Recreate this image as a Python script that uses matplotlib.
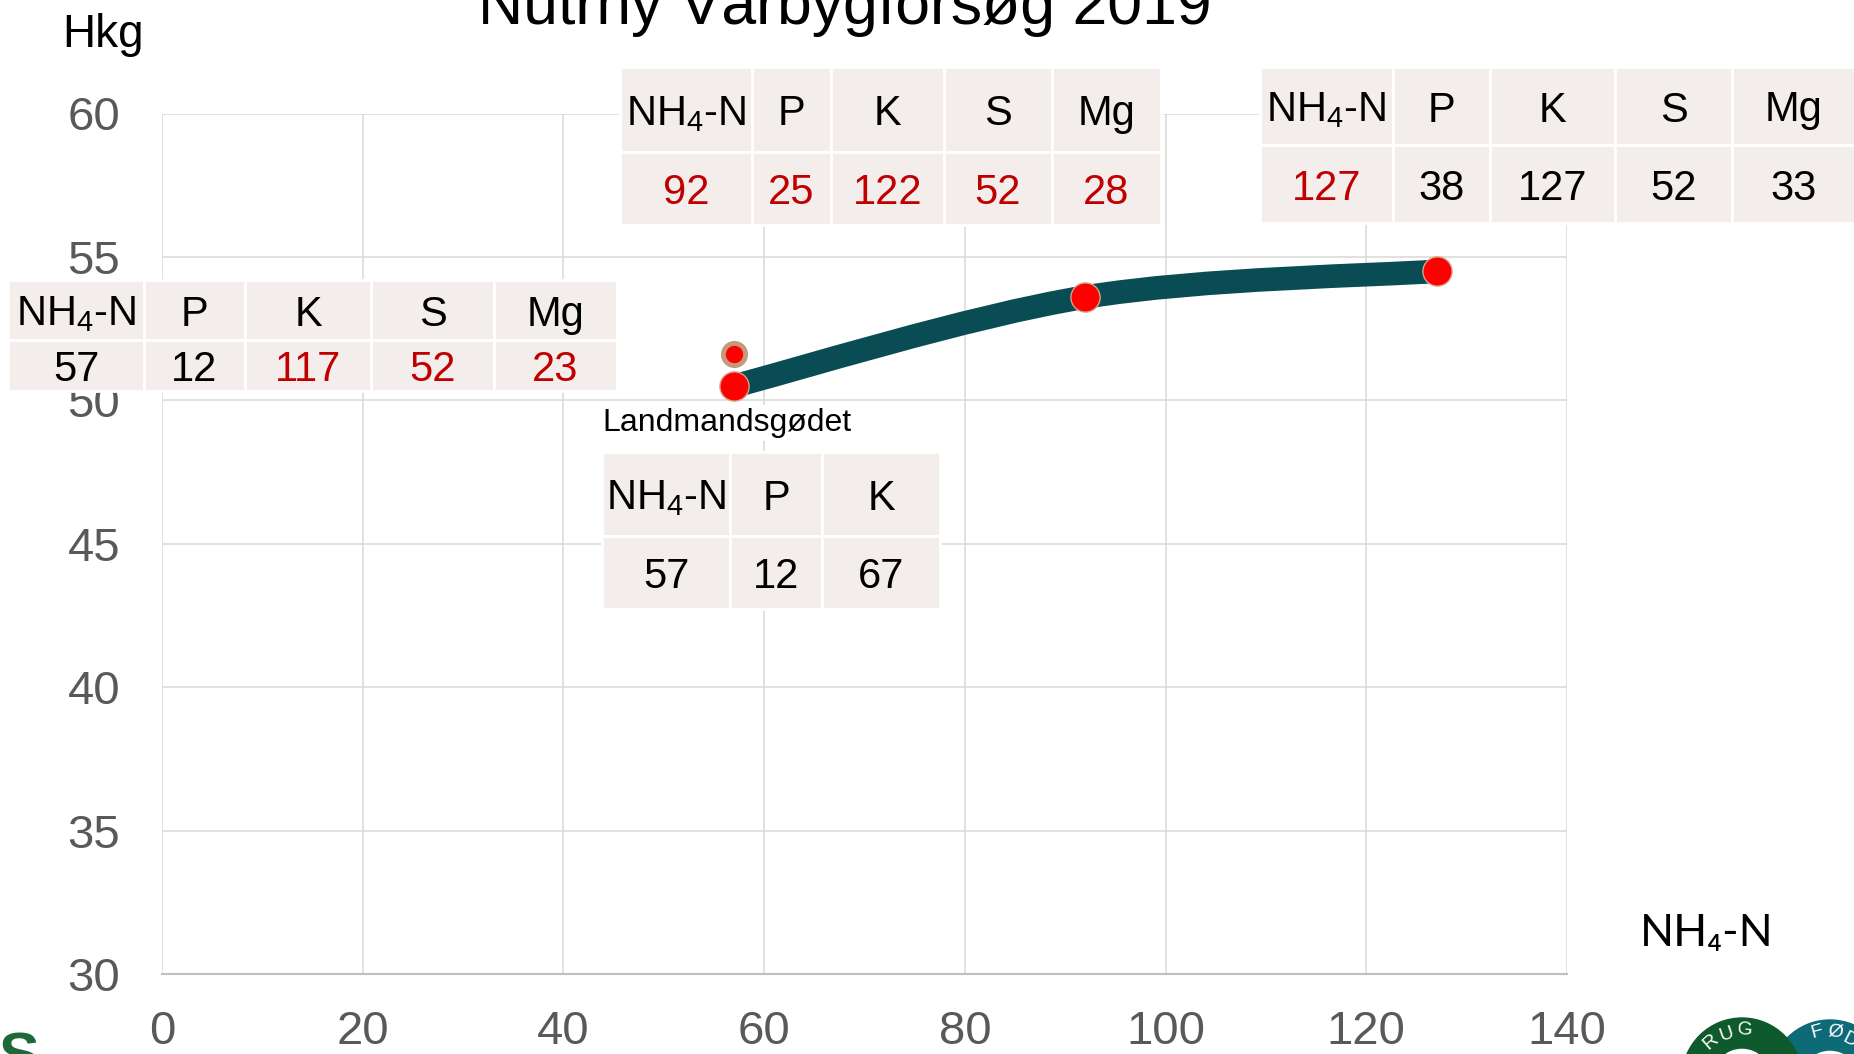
import matplotlib.pyplot as plt
from matplotlib.patches import Rectangle, Annulus, PathPatch
from matplotlib.path import Path

plt.rcParams['font.family'] = ['Liberation Sans', 'DejaVu Sans']
plt.rcParams['mathtext.fontset'] = 'custom'
plt.rcParams['mathtext.rm'] = 'Liberation Sans'
plt.rcParams['mathtext.default'] = 'regular'

W, H = 1854, 1054

# yield response to NH4-N
nh4_n = [57, 92, 127]
yield_hkg = [50.5, 53.6, 54.5]
farmer_nh4_n = [57]
farmer_yield = [51.6]

x_ticks = [0, 20, 40, 60, 80, 100, 120, 140]
y_ticks = [30, 35, 40, 45, 50, 55, 60]

# nutrient tables
nutrients_5 = ["NH$_4$-N", "P", "K", "S", "Mg"]
nutrients_3 = ["NH$_4$-N", "P", "K"]
values_92 = [92, 25, 122, 52, 28]
values_127 = [127, 38, 127, 52, 33]
values_57 = [57, 12, 117, 52, 23]
values_farmer = [57, 12, 67]
red_92 = [True, True, True, True, True]
red_127 = [True, False, False, False, False]
red_57 = [False, False, True, True, True]
red_farmer = [False, False, False]

CELL = '#f3eeec'
RED = '#c00000'
LINE = '#0a4c54'
GRID = '#d9d9d9'
TICK = '#595959'


def draw_table(fig, col_edges, row_edges, headers, values, red):
    for i in range(len(headers)):
        x0, x1 = col_edges[i], col_edges[i + 1]
        cells = [(headers[i], 'black'), (str(values[i]), RED if red[i] else 'black')]
        for r, (label, color) in enumerate(cells):
            y0, y1 = row_edges[r], row_edges[r + 1]
            fig.add_artist(Rectangle((x0 / W, 1 - y1 / H), (x1 - x0) / W, (y1 - y0) / H,
                                     transform=fig.transFigure, facecolor=CELL,
                                     edgecolor='white', linewidth=2, zorder=5))
            fig.text((x0 + x1) / 2 / W, 1 - (y0 + y1) / 2 / H, label, ha='center',
                     va='center_baseline', fontsize=30, color=color, zorder=6)


fig = plt.figure(figsize=(W / 100, H / 100), dpi=100)
ax = fig.add_axes([162 / W, 1 - 974 / H, (1567 - 162) / W, (974 - 113.5) / H])

ax.set_xlim(0, 140)
ax.set_ylim(30, 60)
ax.set_xticks(x_ticks)
ax.set_yticks(y_ticks)
ax.grid(True, color=GRID, linewidth=1.1)
ax.set_axisbelow(True)
for side in ['left', 'top', 'right']:
    ax.spines[side].set_visible(False)
ax.spines['bottom'].set_color('#bfbfbf')
ax.spines['bottom'].set_linewidth(1.5)
ax.tick_params(axis='y', length=0, pad=30, labelsize=34, labelcolor=TICK)
ax.tick_params(axis='x', length=0, pad=26, labelsize=34, labelcolor=TICK)

# smoothed line through the points (Bezier, like the spreadsheet "smooth line")
pts = list(zip(nh4_n, yield_hkg))
verts = [pts[0]]
codes = [Path.MOVETO]
for i in range(len(pts) - 1):
    p_prev = pts[max(i - 1, 0)]
    p0, p1 = pts[i], pts[i + 1]
    p_next = pts[min(i + 2, len(pts) - 1)]
    c1 = (p0[0] + (p1[0] - p_prev[0]) / 6, p0[1] + (p1[1] - p_prev[1]) / 6)
    c2 = (p1[0] - (p_next[0] - p0[0]) / 6, p1[1] - (p_next[1] - p0[1]) / 6)
    verts += [c1, c2, p1]
    codes += [Path.CURVE4] * 3
ax.add_patch(PathPatch(Path(verts, codes), facecolor='none', edgecolor=LINE,
                       linewidth=17, capstyle='butt', zorder=3))
ax.plot(nh4_n, yield_hkg, 'o', ms=21, mfc='#ff0000', mec='#d4a488', mew=1, zorder=4)
ax.plot(farmer_nh4_n, farmer_yield, 'o', ms=16, mfc='#ff0000', mec='#c49a7c', mew=3.5, zorder=4)

# texts
fig.text(845 / W, 1 - 24 / H, 'Nutrhy Vårbygforsøg 2019', fontsize=45, ha='center', va='baseline')
fig.text(62 / W, 1 - 47 / H, 'Hkg', fontsize=33, va='baseline')
fig.text(1640 / W, 1 - 946 / H, 'NH₄-N', fontsize=32, va='baseline', family=['Lato', 'DejaVu Sans'])
fig.text(602 / W, 1 - 423 / H, 'Landmandsgødet', fontsize=23, va='center', ha='left',
         bbox=dict(facecolor='white', edgecolor='none', pad=2), zorder=5)

# tables
draw_table(fig, [620, 752, 831, 944, 1052, 1161], [67, 152, 225], nutrients_5, values_92, red_92)
draw_table(fig, [1260, 1393, 1490, 1615, 1732, 1856], [67, 145, 223], nutrients_5, values_127, red_127)
draw_table(fig, [8, 144, 245, 371, 494, 617], [280, 340, 391], nutrients_5, values_57, red_57)
draw_table(fig, [602, 730, 822, 940], [452, 536, 609], nutrients_3, values_farmer, red_farmer)

# logo fragments at the bottom corners
inch = fig.dpi_scale_trans
fig.add_artist(Annulus((18.30, (H - 1080) / 100), 0.60, 0.30, transform=inch, color='#0d6b78', zorder=2))
fig.add_artist(Annulus((17.42, (H - 1078) / 100), 0.60, 0.30, transform=inch, color='#0e5a2c', zorder=3))
for ch, x, y, rot in [('R', 1711, 1042, 41), ('U', 1727, 1034, 19), ('G', 1745, 1030, -4),
                      ('F', 1817, 1032, 15), ('Ø', 1835, 1032, -6), ('D', 1850, 1040, -27)]:
    fig.text(x / W, 1 - y / H, ch, color='white', fontsize=14, ha='center', va='center',
             rotation=rot, zorder=4)
fig.text(-2 / W, 1 - 1075 / H, 'S', color='#1d6a38', fontsize=44, fontweight='bold',
         ha='left', va='baseline')

fig.savefig('out.png', dpi=100, facecolor='white')
